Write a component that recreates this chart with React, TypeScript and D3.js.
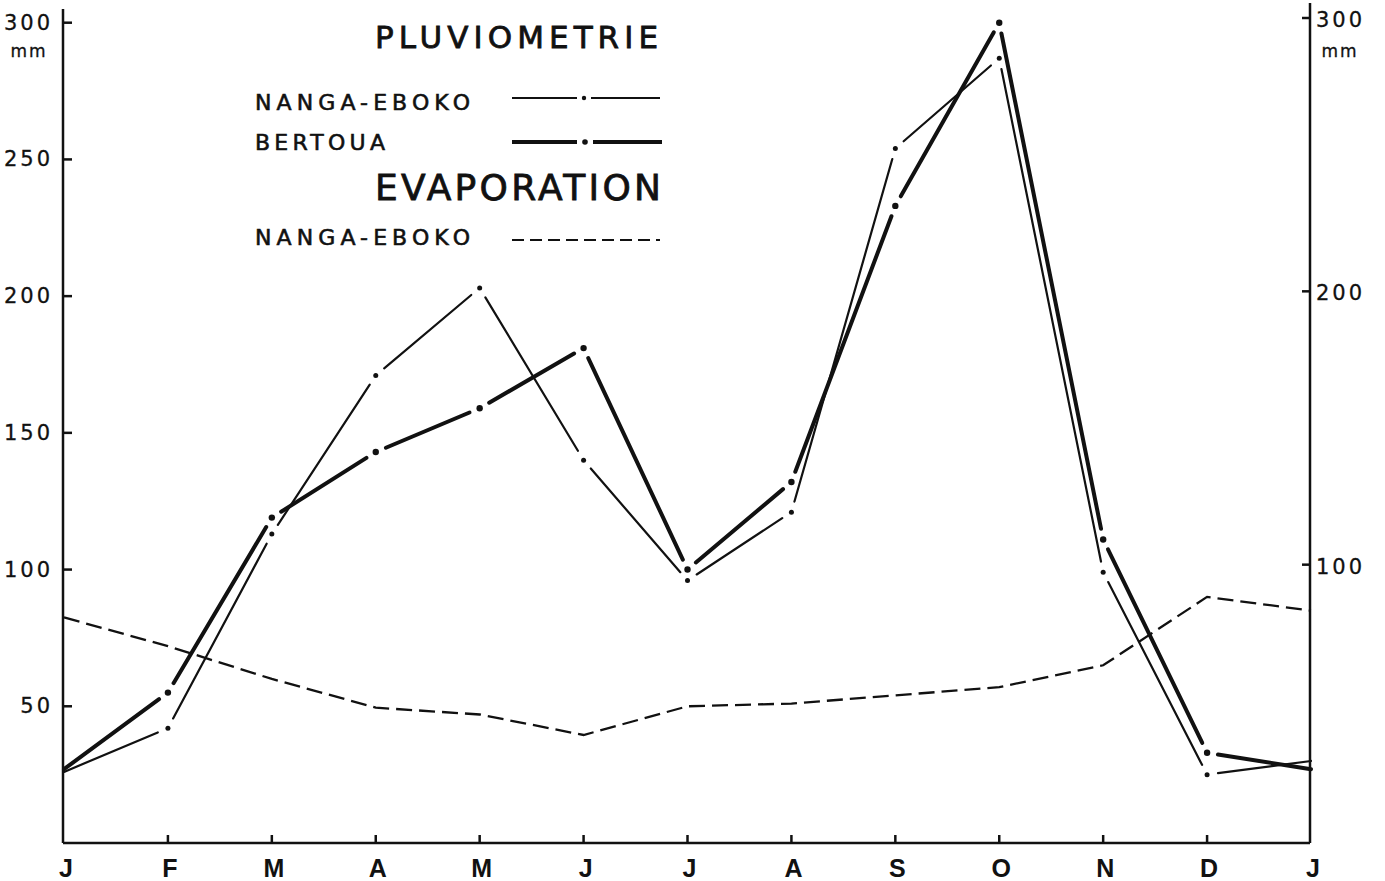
import React from 'react';
import * as d3 from 'd3';

// monthly values (mm)
const months = ['J', 'F', 'M', 'A', 'M', 'J', 'J', 'A', 'S', 'O', 'N', 'D', 'J'];
const nangaRain = [26, 42, 113, 171, 203, 140, 96, 121, 254, 287, 99, 25, 30];
const bertouaRain = [27, 55, 119, 143, 159, 181, 100, 132, 233, 300, 111, 33, 27];
const nangaEvap = [82.5, 72, 60, 49.5, 47, 39.5, 50, 51, 54, 57, 65, 90, 85];

const leftTicks = [50, 100, 150, 200, 250, 300];
const rightTicks = [100, 200, 300];

const W = 1385;
const H = 881;
const FONT = '"DejaVu Sans", "Liberation Sans", sans-serif';
const INK = '#111';

const x = d3.scaleLinear().domain([0, 12]).range([64, 1311]);
const yLeft = d3.scaleLinear().domain([0, 300]).range([843, 22.7]);
const yRight = d3.scaleLinear().domain([0, 300]).range([838, 18]);

const axisLeftX = 63;
const axisRightX = 1310;
const axisBottomY = 843;

// dash-dot line: a segment between each pair of months, broken around a dot at every inner vertex
function DashDot({ values, width, r, gap }: { values: number[]; width: number; r: number; gap: number }) {
  const pts = values.map((v, i) => [x(i), yLeft(v)] as [number, number]);
  const segs = [];
  for (let i = 0; i < pts.length - 1; i++) {
    const [x0, y0] = pts[i];
    const [x1, y1] = pts[i + 1];
    const len = Math.hypot(x1 - x0, y1 - y0);
    const ux = (x1 - x0) / len;
    const uy = (y1 - y0) / len;
    const g0 = i === 0 ? 0 : gap;
    const g1 = i === pts.length - 2 ? 0 : gap;
    segs.push(
      <line
        key={'s' + i}
        x1={x0 + ux * g0}
        y1={y0 + uy * g0}
        x2={x1 - ux * g1}
        y2={y1 - uy * g1}
        stroke={INK}
        strokeWidth={width}
        strokeLinecap="round"
      />
    );
  }
  const dots = pts.slice(1, -1).map((p, i) => <circle key={'d' + i} cx={p[0]} cy={p[1]} r={r} fill={INK} />);
  return (
    <g>
      {segs}
      {dots}
    </g>
  );
}

export default function App() {
  const evapLine = d3
    .line<number>()
    .x((_, i) => x(i))
    .y((d) => yLeft(d));

  const txt = { fill: INK, stroke: INK, strokeWidth: 0.5 };

  return (
    <svg
      width={W}
      height={H}
      style={{ position: 'absolute', left: 0, top: 0, background: '#fff' }}
      fontFamily={FONT}
    >
      <rect width={W} height={H} fill="#fff" />

      {/* axes */}
      <line x1={axisLeftX} y1={9} x2={axisLeftX} y2={axisBottomY} stroke={INK} strokeWidth={2.5} />
      <line x1={axisRightX} y1={3} x2={axisRightX} y2={axisBottomY} stroke={INK} strokeWidth={2.5} />
      <line x1={axisLeftX} y1={axisBottomY} x2={axisRightX} y2={axisBottomY} stroke={INK} strokeWidth={2.5} />

      {leftTicks.map((t) => (
        <g key={'lt' + t}>
          <line x1={axisLeftX} x2={axisLeftX + 9} y1={yLeft(t)} y2={yLeft(t)} stroke={INK} strokeWidth={2.5} />
          <text
            x={53}
            y={yLeft(t)}
            textAnchor="end"
            dominantBaseline="central"
            fontSize={21}
            letterSpacing={3}
            {...txt}
            strokeWidth={0.3}
          >
            {t}
          </text>
        </g>
      ))}
      <text x={29} y={51} textAnchor="middle" dominantBaseline="central" fontSize={17} letterSpacing={2} {...txt} strokeWidth={0.3}>
        mm
      </text>

      {rightTicks.map((t) => (
        <g key={'rt' + t}>
          <line x1={axisRightX - 8} x2={axisRightX} y1={yRight(t)} y2={yRight(t)} stroke={INK} strokeWidth={2.5} />
          <text
            x={1316}
            y={yRight(t) + 2}
            textAnchor="start"
            dominantBaseline="central"
            fontSize={21}
            letterSpacing={3}
            {...txt}
            strokeWidth={0.3}
          >
            {t}
          </text>
        </g>
      ))}
      <text x={1340} y={51} textAnchor="middle" dominantBaseline="central" fontSize={17} letterSpacing={2} {...txt} strokeWidth={0.3}>
        mm
      </text>

      {months.map((m, i) => (
        <g key={'m' + i}>
          {i > 0 && i < 12 && (
            <line x1={x(i)} x2={x(i)} y1={axisBottomY} y2={axisBottomY - 8} stroke={INK} strokeWidth={2.5} />
          )}
          <text
            x={x(i) + 2}
            y={877}
            textAnchor="middle"
            fontSize={25}
            fontWeight="bold"
            fontFamily='"Liberation Sans", Arial, sans-serif'
            fill={INK}
          >
            {m}
          </text>
        </g>
      ))}

      {/* series */}
      <path
        d={evapLine(nangaEvap) || ''}
        fill="none"
        stroke={INK}
        strokeWidth={2.3}
        strokeDasharray="16 7"
      />
      <DashDot values={nangaRain} width={2.2} r={2.5} gap={11} />
      <DashDot values={bertouaRain} width={4} r={3.2} gap={11} />

      {/* legend */}
      <text x={375} y={48} fontSize={31} textLength={283} lengthAdjust="spacing" {...txt} strokeWidth={0.8}>
        PLUVIOMETRIE
      </text>
      <text x={255} y={110} fontSize={22} textLength={215} lengthAdjust="spacing" {...txt} strokeWidth={0.6}>
        NANGA-EBOKO
      </text>
      <line x1={512} x2={577} y1={98} y2={98} stroke={INK} strokeWidth={2.2} />
      <circle cx={584} cy={98} r={2.2} fill={INK} />
      <line x1={591} x2={660} y1={98} y2={98} stroke={INK} strokeWidth={2.2} />

      <text x={255} y={150} fontSize={22} textLength={130} lengthAdjust="spacing" {...txt} strokeWidth={0.6}>
        BERTOUA
      </text>
      <line x1={512} x2={577} y1={142} y2={142} stroke={INK} strokeWidth={4} />
      <circle cx={585} cy={142} r={2.8} fill={INK} />
      <line x1={593} x2={662} y1={142} y2={142} stroke={INK} strokeWidth={4} />

      <text x={375} y={200} fontSize={36} textLength={286} lengthAdjust="spacing" {...txt} strokeWidth={0.8}>
        EVAPORATION
      </text>
      <text x={255} y={245} fontSize={22} textLength={215} lengthAdjust="spacing" {...txt} strokeWidth={0.6}>
        NANGA-EBOKO
      </text>
      <line x1={512} x2={660} y1={240} y2={240} stroke={INK} strokeWidth={2.2} strokeDasharray="12 6" />
    </svg>
  );
}
